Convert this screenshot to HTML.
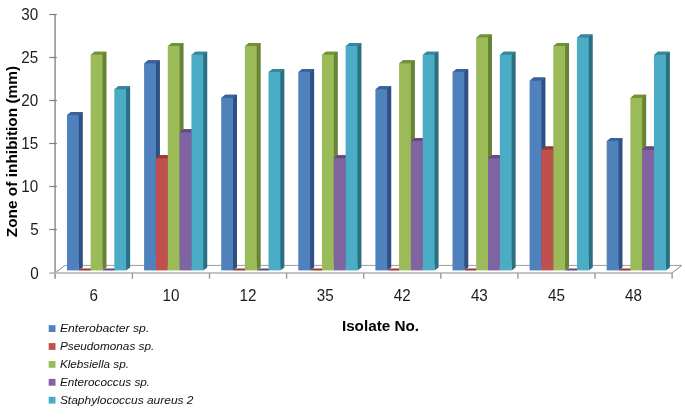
<!DOCTYPE html><html><head><meta charset="utf-8"><title>chart</title><style>html,body{margin:0;padding:0;background:#fff}</style></head><body><svg width="685" height="417" viewBox="0 0 685 417" style="display:block">
<rect width="685" height="417" fill="#fff"/>
<path d="M64.89999999999999 265.4H681.7" fill="none" stroke="#9c9c9c" stroke-width="1"/>
<path d="M55.3 272.95L64.89999999999999 265.4M681.7 265.4L672.1 272.95" fill="none" stroke="#858585" stroke-width="1"/>
<path d="M55.099999999999994 13.9V278.8" stroke="#969696" stroke-width="1.6" fill="none"/>
<g stroke="#808080" stroke-width="1.2" fill="none">
<path d="M49.3 229.50H56.9"/>
<path d="M49.3 186.50H56.9"/>
<path d="M49.3 143.50H56.9"/>
<path d="M49.3 100.50H56.9"/>
<path d="M49.3 57.50H56.9"/>
<path d="M49.3 14.50H56.9"/>
</g>
<path d="M49.3 272.95H672.7" stroke="#b0b0b0" stroke-width="1.5" fill="none"/>
<g stroke="#9a9a9a" stroke-width="1.4" fill="none">
<path d="M132.4 272.95V278.8"/>
<path d="M209.5 272.95V278.8"/>
<path d="M286.6 272.95V278.8"/>
<path d="M363.7 272.95V278.8"/>
<path d="M440.8 272.95V278.8"/>
<path d="M517.9 272.95V278.8"/>
<path d="M595.0 272.95V278.8"/>
<path d="M672.1 272.95V278.8"/>
</g>
<path d="M67.50 115.56l3.5 -3.5h11.83V267.40l-4.0 3.0Z" fill="#2F5082"/>
<path d="M67.00 115.06l4.0 -3.0h11.83l-4.0 3.0Z" fill="#3A6499"/>
<rect x="67.00" y="115.06" width="11.83" height="155.34" fill="#4F81BD"/>
<path d="M78.83 270.40l2.6 -1.95h11.83l-2.6 1.95Z" fill="#973A37"/>
<path d="M91.16 55.15l3.5 -3.5h11.83V267.40l-4.0 3.0Z" fill="#678335"/>
<path d="M90.66 54.65l4.0 -3.0h11.83l-4.0 3.0Z" fill="#749039"/>
<rect x="90.66" y="54.65" width="11.83" height="215.75" fill="#9BBB59"/>
<path d="M102.49 270.40l2.6 -1.95h11.83l-2.6 1.95Z" fill="#614B7E"/>
<path d="M114.82 89.67l3.5 -3.5h11.83V267.40l-4.0 3.0Z" fill="#2A6F82"/>
<path d="M114.32 89.17l4.0 -3.0h11.83l-4.0 3.0Z" fill="#37869C"/>
<rect x="114.32" y="89.17" width="11.83" height="181.23" fill="#4BACC6"/>
<path d="M144.60 63.78l3.5 -3.5h11.83V267.40l-4.0 3.0Z" fill="#2F5082"/>
<path d="M144.10 63.28l4.0 -3.0h11.83l-4.0 3.0Z" fill="#3A6499"/>
<rect x="144.10" y="63.28" width="11.83" height="207.12" fill="#4F81BD"/>
<path d="M156.43 158.71l3.5 -3.5h11.83V267.40l-4.0 3.0Z" fill="#853230"/>
<path d="M155.93 158.21l4.0 -3.0h11.83l-4.0 3.0Z" fill="#973A37"/>
<rect x="155.93" y="158.21" width="11.83" height="112.19" fill="#C0504D"/>
<path d="M168.26 46.52l3.5 -3.5h11.83V267.40l-4.0 3.0Z" fill="#678335"/>
<path d="M167.76 46.02l4.0 -3.0h11.83l-4.0 3.0Z" fill="#749039"/>
<rect x="167.76" y="46.02" width="11.83" height="224.38" fill="#9BBB59"/>
<path d="M180.09 132.82l3.5 -3.5h11.83V267.40l-4.0 3.0Z" fill="#55416E"/>
<path d="M179.59 132.32l4.0 -3.0h11.83l-4.0 3.0Z" fill="#614B7E"/>
<rect x="179.59" y="132.32" width="11.83" height="138.08" fill="#8064A2"/>
<path d="M191.92 55.15l3.5 -3.5h11.83V267.40l-4.0 3.0Z" fill="#2A6F82"/>
<path d="M191.42 54.65l4.0 -3.0h11.83l-4.0 3.0Z" fill="#37869C"/>
<rect x="191.42" y="54.65" width="11.83" height="215.75" fill="#4BACC6"/>
<path d="M221.70 98.30l3.5 -3.5h11.83V267.40l-4.0 3.0Z" fill="#2F5082"/>
<path d="M221.20 97.80l4.0 -3.0h11.83l-4.0 3.0Z" fill="#3A6499"/>
<rect x="221.20" y="97.80" width="11.83" height="172.60" fill="#4F81BD"/>
<path d="M233.03 270.40l2.6 -1.95h11.83l-2.6 1.95Z" fill="#973A37"/>
<path d="M245.36 46.52l3.5 -3.5h11.83V267.40l-4.0 3.0Z" fill="#678335"/>
<path d="M244.86 46.02l4.0 -3.0h11.83l-4.0 3.0Z" fill="#749039"/>
<rect x="244.86" y="46.02" width="11.83" height="224.38" fill="#9BBB59"/>
<path d="M256.69 270.40l2.6 -1.95h11.83l-2.6 1.95Z" fill="#614B7E"/>
<path d="M269.02 72.41l3.5 -3.5h11.83V267.40l-4.0 3.0Z" fill="#2A6F82"/>
<path d="M268.52 71.91l4.0 -3.0h11.83l-4.0 3.0Z" fill="#37869C"/>
<rect x="268.52" y="71.91" width="11.83" height="198.49" fill="#4BACC6"/>
<path d="M298.80 72.41l3.5 -3.5h11.83V267.40l-4.0 3.0Z" fill="#2F5082"/>
<path d="M298.30 71.91l4.0 -3.0h11.83l-4.0 3.0Z" fill="#3A6499"/>
<rect x="298.30" y="71.91" width="11.83" height="198.49" fill="#4F81BD"/>
<path d="M310.13 270.40l2.6 -1.95h11.83l-2.6 1.95Z" fill="#973A37"/>
<path d="M322.46 55.15l3.5 -3.5h11.83V267.40l-4.0 3.0Z" fill="#678335"/>
<path d="M321.96 54.65l4.0 -3.0h11.83l-4.0 3.0Z" fill="#749039"/>
<rect x="321.96" y="54.65" width="11.83" height="215.75" fill="#9BBB59"/>
<path d="M334.29 158.71l3.5 -3.5h11.83V267.40l-4.0 3.0Z" fill="#55416E"/>
<path d="M333.79 158.21l4.0 -3.0h11.83l-4.0 3.0Z" fill="#614B7E"/>
<rect x="333.79" y="158.21" width="11.83" height="112.19" fill="#8064A2"/>
<path d="M346.12 46.52l3.5 -3.5h11.83V267.40l-4.0 3.0Z" fill="#2A6F82"/>
<path d="M345.62 46.02l4.0 -3.0h11.83l-4.0 3.0Z" fill="#37869C"/>
<rect x="345.62" y="46.02" width="11.83" height="224.38" fill="#4BACC6"/>
<path d="M375.90 89.67l3.5 -3.5h11.83V267.40l-4.0 3.0Z" fill="#2F5082"/>
<path d="M375.40 89.17l4.0 -3.0h11.83l-4.0 3.0Z" fill="#3A6499"/>
<rect x="375.40" y="89.17" width="11.83" height="181.23" fill="#4F81BD"/>
<path d="M387.23 270.40l2.6 -1.95h11.83l-2.6 1.95Z" fill="#973A37"/>
<path d="M399.56 63.78l3.5 -3.5h11.83V267.40l-4.0 3.0Z" fill="#678335"/>
<path d="M399.06 63.28l4.0 -3.0h11.83l-4.0 3.0Z" fill="#749039"/>
<rect x="399.06" y="63.28" width="11.83" height="207.12" fill="#9BBB59"/>
<path d="M411.39 141.45l3.5 -3.5h11.83V267.40l-4.0 3.0Z" fill="#55416E"/>
<path d="M410.89 140.95l4.0 -3.0h11.83l-4.0 3.0Z" fill="#614B7E"/>
<rect x="410.89" y="140.95" width="11.83" height="129.45" fill="#8064A2"/>
<path d="M423.22 55.15l3.5 -3.5h11.83V267.40l-4.0 3.0Z" fill="#2A6F82"/>
<path d="M422.72 54.65l4.0 -3.0h11.83l-4.0 3.0Z" fill="#37869C"/>
<rect x="422.72" y="54.65" width="11.83" height="215.75" fill="#4BACC6"/>
<path d="M453.00 72.41l3.5 -3.5h11.83V267.40l-4.0 3.0Z" fill="#2F5082"/>
<path d="M452.50 71.91l4.0 -3.0h11.83l-4.0 3.0Z" fill="#3A6499"/>
<rect x="452.50" y="71.91" width="11.83" height="198.49" fill="#4F81BD"/>
<path d="M464.33 270.40l2.6 -1.95h11.83l-2.6 1.95Z" fill="#973A37"/>
<path d="M476.66 37.89l3.5 -3.5h11.83V267.40l-4.0 3.0Z" fill="#678335"/>
<path d="M476.16 37.39l4.0 -3.0h11.83l-4.0 3.0Z" fill="#749039"/>
<rect x="476.16" y="37.39" width="11.83" height="233.01" fill="#9BBB59"/>
<path d="M488.49 158.71l3.5 -3.5h11.83V267.40l-4.0 3.0Z" fill="#55416E"/>
<path d="M487.99 158.21l4.0 -3.0h11.83l-4.0 3.0Z" fill="#614B7E"/>
<rect x="487.99" y="158.21" width="11.83" height="112.19" fill="#8064A2"/>
<path d="M500.32 55.15l3.5 -3.5h11.83V267.40l-4.0 3.0Z" fill="#2A6F82"/>
<path d="M499.82 54.65l4.0 -3.0h11.83l-4.0 3.0Z" fill="#37869C"/>
<rect x="499.82" y="54.65" width="11.83" height="215.75" fill="#4BACC6"/>
<path d="M530.10 81.04l3.5 -3.5h11.83V267.40l-4.0 3.0Z" fill="#2F5082"/>
<path d="M529.60 80.54l4.0 -3.0h11.83l-4.0 3.0Z" fill="#3A6499"/>
<rect x="529.60" y="80.54" width="11.83" height="189.86" fill="#4F81BD"/>
<path d="M541.93 150.08l3.5 -3.5h11.83V267.40l-4.0 3.0Z" fill="#853230"/>
<path d="M541.43 149.58l4.0 -3.0h11.83l-4.0 3.0Z" fill="#973A37"/>
<rect x="541.43" y="149.58" width="11.83" height="120.82" fill="#C0504D"/>
<path d="M553.76 46.52l3.5 -3.5h11.83V267.40l-4.0 3.0Z" fill="#678335"/>
<path d="M553.26 46.02l4.0 -3.0h11.83l-4.0 3.0Z" fill="#749039"/>
<rect x="553.26" y="46.02" width="11.83" height="224.38" fill="#9BBB59"/>
<path d="M565.09 270.40l2.6 -1.95h11.83l-2.6 1.95Z" fill="#614B7E"/>
<path d="M577.42 37.89l3.5 -3.5h11.83V267.40l-4.0 3.0Z" fill="#2A6F82"/>
<path d="M576.92 37.39l4.0 -3.0h11.83l-4.0 3.0Z" fill="#37869C"/>
<rect x="576.92" y="37.39" width="11.83" height="233.01" fill="#4BACC6"/>
<path d="M607.20 141.45l3.5 -3.5h11.83V267.40l-4.0 3.0Z" fill="#2F5082"/>
<path d="M606.70 140.95l4.0 -3.0h11.83l-4.0 3.0Z" fill="#3A6499"/>
<rect x="606.70" y="140.95" width="11.83" height="129.45" fill="#4F81BD"/>
<path d="M618.53 270.40l2.6 -1.95h11.83l-2.6 1.95Z" fill="#973A37"/>
<path d="M630.86 98.30l3.5 -3.5h11.83V267.40l-4.0 3.0Z" fill="#678335"/>
<path d="M630.36 97.80l4.0 -3.0h11.83l-4.0 3.0Z" fill="#749039"/>
<rect x="630.36" y="97.80" width="11.83" height="172.60" fill="#9BBB59"/>
<path d="M642.69 150.08l3.5 -3.5h11.83V267.40l-4.0 3.0Z" fill="#55416E"/>
<path d="M642.19 149.58l4.0 -3.0h11.83l-4.0 3.0Z" fill="#614B7E"/>
<rect x="642.19" y="149.58" width="11.83" height="120.82" fill="#8064A2"/>
<path d="M654.52 55.15l3.5 -3.5h11.83V267.40l-4.0 3.0Z" fill="#2A6F82"/>
<path d="M654.02 54.65l4.0 -3.0h11.83l-4.0 3.0Z" fill="#37869C"/>
<rect x="654.02" y="54.65" width="11.83" height="215.75" fill="#4BACC6"/>
<g font-family="'Liberation Sans', sans-serif" fill="#1c1c1c">
<text x="30.3" y="278.5" font-size="17.2" textLength="8.45" lengthAdjust="spacingAndGlyphs">0</text>
<text x="30.3" y="234.9" font-size="17.2" textLength="8.45" lengthAdjust="spacingAndGlyphs">5</text>
<text x="21.3" y="191.9" font-size="17.2" textLength="16.9" lengthAdjust="spacingAndGlyphs">10</text>
<text x="21.3" y="148.9" font-size="17.2" textLength="16.9" lengthAdjust="spacingAndGlyphs">15</text>
<text x="21.3" y="105.9" font-size="17.2" textLength="16.9" lengthAdjust="spacingAndGlyphs">20</text>
<text x="21.3" y="62.9" font-size="17.2" textLength="16.9" lengthAdjust="spacingAndGlyphs">25</text>
<text x="21.3" y="19.9" font-size="17.2" textLength="16.9" lengthAdjust="spacingAndGlyphs">30</text>
<text x="89.6" y="300.6" font-size="17.2" textLength="8.45" lengthAdjust="spacingAndGlyphs">6</text>
<text x="162.5" y="300.6" font-size="17.2" textLength="16.9" lengthAdjust="spacingAndGlyphs">10</text>
<text x="239.6" y="300.6" font-size="17.2" textLength="16.9" lengthAdjust="spacingAndGlyphs">12</text>
<text x="316.7" y="300.6" font-size="17.2" textLength="16.9" lengthAdjust="spacingAndGlyphs">35</text>
<text x="393.8" y="300.6" font-size="17.2" textLength="16.9" lengthAdjust="spacingAndGlyphs">42</text>
<text x="470.9" y="300.6" font-size="17.2" textLength="16.9" lengthAdjust="spacingAndGlyphs">43</text>
<text x="548.0" y="300.6" font-size="17.2" textLength="16.9" lengthAdjust="spacingAndGlyphs">45</text>
<text x="625.1" y="300.6" font-size="17.2" textLength="16.9" lengthAdjust="spacingAndGlyphs">48</text>
<text x="341.9" y="331.2" font-size="15.5" font-weight="bold" textLength="77.2" lengthAdjust="spacingAndGlyphs" fill="#000">Isolate No.</text>
<text transform="translate(16.9,237.3) rotate(-90)" font-size="15" font-weight="bold" textLength="171.5" lengthAdjust="spacingAndGlyphs" fill="#000">Zone of inhibition (mm)</text>
<rect x="48.7" y="325.2" width="6.8" height="6.8" fill="#4F81BD"/>
<text x="59.9" y="331.9" font-size="11" font-style="italic" textLength="89.4" lengthAdjust="spacingAndGlyphs" fill="#111">Enterobacter sp.</text>
<rect x="48.7" y="343.1" width="6.8" height="6.8" fill="#C0504D"/>
<text x="59.9" y="349.8" font-size="11" font-style="italic" textLength="94.4" lengthAdjust="spacingAndGlyphs" fill="#111">Pseudomonas sp.</text>
<rect x="48.7" y="361.0" width="6.8" height="6.8" fill="#9BBB59"/>
<text x="59.9" y="367.7" font-size="11" font-style="italic" textLength="69.1" lengthAdjust="spacingAndGlyphs" fill="#111">Klebsiella sp.</text>
<rect x="48.7" y="378.9" width="6.8" height="6.8" fill="#8064A2"/>
<text x="59.9" y="385.6" font-size="11" font-style="italic" textLength="90.2" lengthAdjust="spacingAndGlyphs" fill="#111">Enterococcus sp.</text>
<rect x="48.7" y="396.8" width="6.8" height="6.8" fill="#4BACC6"/>
<text x="59.9" y="403.5" font-size="11" font-style="italic" textLength="133.6" lengthAdjust="spacingAndGlyphs" fill="#111">Staphylococcus aureus 2</text>
</g>
</svg></body></html>
